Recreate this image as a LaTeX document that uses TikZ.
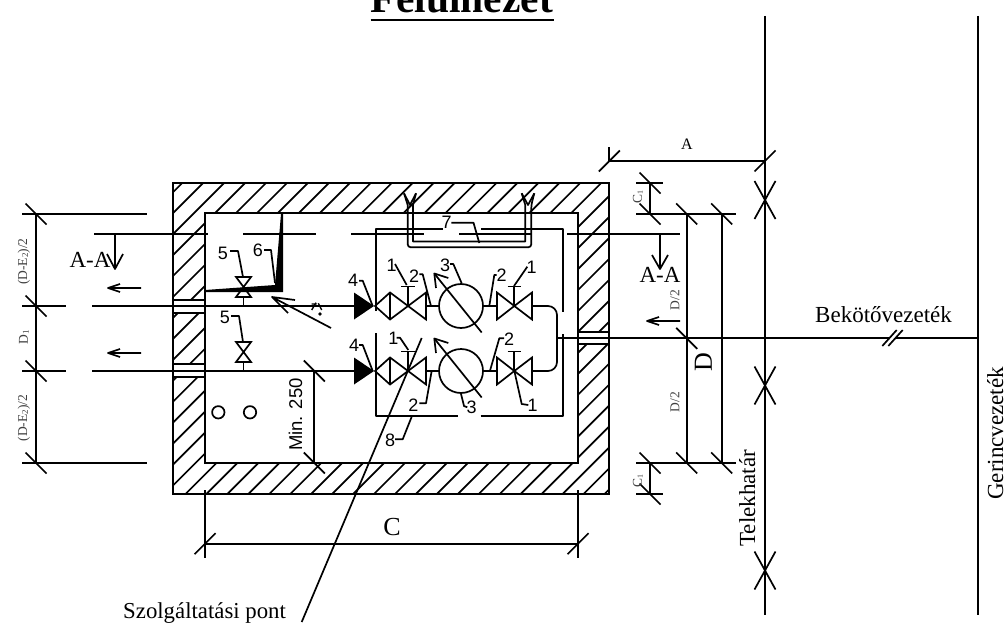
\documentclass[tikz,border=0pt]{standalone}
\usepackage{fontspec}
\setmainfont{Liberation Serif}
\setsansfont{Liberation Sans}
\newcommand{\fs}[1]{\fontsize{#1pt}{#1pt}\selectfont}
\newcommand{\dtick}[2]{\draw[dim] (#1-10.5,#2-10.5) -- (#1+10.5,#2+10.5);}
\newcommand{\ftick}[2]{\draw[dim] (#1-10.5,#2+10.5) -- (#1+10.5,#2-10.5);}
\newcommand{\xmark}[2]{\draw[dim] (#1-10.5,#2-19) -- (#1+10.5,#2+19) (#1-10.5,#2+19) -- (#1+10.5,#2-19);}
% ball valve chain at height #1
\newcommand{\valvesrow}[1]{%
 \fill (354,#1-13.5) -- (374,#1) -- (354,#1+13.5) -- cycle;
 \draw[ln,line join=miter] (375,#1) -- (390,#1-13.5) -- (408,#1) -- (390,#1+13.5) -- cycle (390,#1-13.5) -- (390,#1+13.5);
 \draw[ln,line join=miter] (408,#1) -- (426,#1-13.5) -- (426,#1+13.5) -- cycle;
 \draw[ln] (408,#1) -- (408,#1-19.5) (401,#1-19.5) -- (414.5,#1-19.5);
 \draw[ln] (426,#1) -- (439,#1);
 \draw[ln] (461,#1) circle (22);
 \draw[ln] (483,#1) -- (497,#1);
 \draw[ln,line join=miter] (514.3,#1) -- (497,#1-13.5) -- (497,#1+13.5) -- cycle;
 \draw[ln,line join=miter] (514.3,#1) -- (532,#1-13.5) -- (532,#1+13.5) -- cycle;
 \draw[ln] (514.3,#1) -- (514.3,#1-19.5) (507.5,#1-19.5) -- (521,#1-19.5);
 \draw[ln] (481.7,#1+26.5) -- (434.3,#1-32.5);
 \draw[ln] (436,#1-18) -- (434.3,#1-32.5) -- (448.3,#1-28);
}
\tikzset{
 ln/.style={line width=1.7pt,line cap=butt,line join=round},
 dim/.style={line width=1.7pt},
 thn/.style={line width=1.4pt},
 lab/.style={font=\sffamily\fs{18},inner sep=0pt},
 txt/.style={font=\fs{23},inner sep=0pt},
 small/.style={font=\fs{13.5},inner sep=0pt,text=black!75},
}
\begin{document}
\begin{tikzpicture}[x=1pt,y=-1pt]
\useasboundingbox (0,0) rectangle (1008,623);
\begin{scope}
\clip (0,0) rectangle (1008,623);
\node[anchor=base,inner sep=0pt,font=\bfseries\fs{41.5}] (title) at (462,12.5) {Felülnézet};
\end{scope}
\draw[line width=2.2pt] (370.5,20) -- (553.5,20);
% wall hatching
\begin{scope}
\clip (173,183) rectangle (609,494);
\foreach \k in {-26,...,12}{
 \pgfmathsetmacro{\hc}{868+20.95*\k}
 \draw[ln] (\hc-183,183) -- (\hc-494,494);
}
\end{scope}
\fill[white] (205,213) rectangle (578,463);
\fill[white] (173,300) rectangle (205,313);
\fill[white] (173,364) rectangle (205,377);
\fill[white] (578,332) rectangle (609,344);
\draw[ln,line join=miter] (173,183) rectangle (609,494);
\draw[ln,line join=miter] (205,213) rectangle (578,463);
\draw[ln] (173,300) -- (205,300) (173,313) -- (205,313);
\draw[ln] (173,364) -- (205,364) (173,377) -- (205,377);
\draw[ln] (578,332) -- (609,332) (578,344) -- (609,344);
% pipes
\draw[ln] (22,306) -- (66,306) (92,306) -- (354,306);
\draw[ln] (22,371) -- (66,371) (92,371) -- (354,371);
% left dimensions
\draw[dim] (36,214) -- (36,463);
\draw[dim] (22,214) -- (147,214) (22,463) -- (147,463);
\dtick{36}{214}\dtick{36}{306}\dtick{36}{371}\dtick{36}{463}
% section lines
\draw[thn] (94,234) -- (208,234) (243,234) -- (316,234) (351,234) -- (424,234) (459,234) -- (532,234) (567,234) -- (680,234);
\draw[ln] (115,234) -- (115,269) (107,254) -- (115,269) -- (123,254);
\draw[ln] (660,234) -- (660,269) (652,255) -- (660,269) -- (668,255);
\node[txt,anchor=base] (aaL) at (90,267) {A-A};
\node[txt,anchor=base] (aaR) at (660,282) {A-A};
% flow arrows
\draw[ln] (141,288) -- (108,288) (120,284) -- (108,288) -- (120,292);
\draw[ln] (141,353) -- (108,353) (120,349) -- (108,353) -- (120,357);
\draw[ln] (680,321) -- (647,321) (659,317) -- (647,321) -- (659,325);
% valves 5
\draw[ln,line join=miter] (236,277) -- (251,277) -- (236,297) -- (251,297) -- cycle;
\draw[ln] (243.5,297) -- (243.5,306);
\draw[ln,line join=miter] (236,342) -- (251,342) -- (236,362) -- (251,362) -- cycle;
\draw[ln] (243.5,362) -- (243.5,371);
\node[lab] (l5a) at (223,253) {5};
\draw[ln] (230,251) -- (238,251) -- (243,277);
\node[lab] (l5b) at (225,317) {5};
\draw[ln] (231,316) -- (239,316) -- (243,342);
% thick wedge 6
\fill (205,290) -- (275,285) -- (281,214) -- (283,214) -- (283,292) -- (205,292) -- cycle;
\node[lab] (l6) at (258,250) {6};
\draw[ln] (264,250) -- (271,250) -- (275,283);
% slanted arrow with symbol
\draw[ln] (331,328) -- (272,297) (288,313) -- (272,297) -- (295,300);
\draw[thn] (311.7,304) -- (316.7,304) (311.7,310) -- (316,302.7) (318.3,303.3) -- (321.7,310);
\fill (320,314) circle (1.8);
% valve rows
\valvesrow{306}
\valvesrow{371}
% collector
\draw[ln] (532,306) -- (548,306) arc[start angle=-90,end angle=0,radius=9] -- (557,362) arc[start angle=0,end angle=90,radius=9] -- (532,371);
\draw[ln] (557,338.3) -- (889,338.3) (895,338.3) -- (977.7,338.3);
\draw[ln] (882.3,346) -- (896.7,330) (888.3,346) -- (902.7,330);
% box 8
\draw[ln] (375.7,311) -- (375.7,229.3) -- (443,229.3) (481,229.3) -- (562.7,229.3) -- (562.7,311.7);
\draw[ln] (375.7,333.3) -- (375.7,416) -- (458.3,416) (480.7,416) -- (562.7,416) -- (562.7,334);
% drain U
\draw[ln] (404,193.3) -- (407.7,205) -- (407.7,244) [rounded corners=3pt] -- (407.7,247.3) -- (531.3,247.3) -- (531.3,205) -- (534.3,193.3);
\draw[ln] (416,193.3) -- (413,205) -- (413,241.5) -- (525.3,241.5) -- (525.3,205) -- (521.7,193.3);
\draw[ln] (404,193.3) -- (410,205) -- (416,193.3);
\draw[ln] (521.7,193.3) -- (528,205) -- (534.3,193.3);
\node[lab] (l7) at (446.5,222) {7};
\draw[ln] (451.3,222.7) -- (473.5,222.7) -- (479.3,243);
% labels upper
\node[lab] (l1a) at (391.5,265) {1};
\draw[ln] (395,264) -- (406.7,285);
\node[lab] (l2a) at (414,276) {2};
\draw[ln] (419.3,274.3) -- (422.7,274.3) -- (430.7,305);
\node[lab] (l3a) at (445,265) {3};
\draw[ln] (450,264) -- (453.3,264) -- (461.7,283.3);
\node[lab] (l4a) at (353,280.7) {4};
\draw[ln] (359,280.7) -- (362.7,280.7) -- (372.7,306);
\node[lab] (l2b) at (501.7,275) {2};
\draw[ln] (496.7,275) -- (494.3,275) -- (489.3,306);
\node[lab] (l1b) at (531.7,267.3) {1};
\draw[ln] (527.3,266.7) -- (514,286);
% labels lower
\node[lab] (l4b) at (354,345) {4};
\draw[ln] (359,345) -- (362.7,345) -- (372.7,371);
\node[lab] (l1c) at (393.3,338) {1};
\draw[ln] (396.7,337.7) -- (400,337.7) -- (408.3,350);
\node[lab] (l2c) at (509,339.3) {2};
\draw[ln] (504,338.3) -- (499.3,338.3) -- (490,370.7);
\node[lab] (l2d) at (413.3,405) {2};
\draw[ln] (419.3,403.3) -- (426,403.3) -- (431.7,370.7);
\node[lab] (l3b) at (471.7,407.3) {3};
\draw[ln] (467.3,407.3) -- (464,406) -- (460.7,392.7);
\node[lab] (l1d) at (532.7,405) {1};
\draw[ln] (528.3,405) -- (521.7,404) -- (514.3,370.7);
\node[lab] (l8) at (390,440) {8};
\draw[ln] (395,439.3) -- (402.7,439.3) -- (411.7,416.7);
% circles
\draw[ln] (218.3,412.3) circle (6.2) (250,412.3) circle (6.2);
% Min 250
\draw[dim] (314.3,371) -- (314.3,463) (270,371) -- (328,371);
\dtick{314.3}{371}\dtick{314.3}{463}
\node[font=\sffamily\fs{18.5},inner sep=0pt,rotate=90,anchor=base west] (min) at (302,451) {Min. 250};
% C dimension
\draw[dim] (205,543.7) -- (578,543.7);
\draw[dim] (205,490) -- (205,558) (578,490) -- (578,558);
\ftick{205}{543.7}\ftick{578}{543.7}
\node[font=\fs{26},inner sep=0pt] (C) at (392,527) {C};
% service point leader
\draw[ln] (421.7,338) -- (301.7,622);
\node[font=\fs{22.8},inner sep=0pt,anchor=base west] (szp) at (123,618) {Szolgáltatási pont};
% boundary lines
\draw[ln] (765,16) -- (765,615);
\draw[ln] (977.7,16) -- (977.7,615);
\xmark{765}{200}\xmark{765}{385.5}\xmark{765}{570.5}
\node[txt,rotate=90,anchor=base west] (telek) at (755,546.7) {Telekhatár};
\node[txt,rotate=90,anchor=base west] (gerinc) at (1003,500) {Gerincvezeték};
\node[txt,anchor=base west] (bek) at (815,322.7) {Bekötővezeték};
% A dimension
\draw[dim] (609.3,161) -- (765,161) (609.3,147.3) -- (609.3,161);
\ftick{609.3}{161}\ftick{765}{161}
\node[font=\fs{16},inner sep=0pt] (A) at (687,144) {A};
% right dimensions
\draw[dim] (650,183) -- (650,214) (650,463) -- (650,494);
\draw[dim] (636,183) -- (663.3,183) (636,214) -- (735.7,214);
\draw[dim] (636,463) -- (735.7,463) (636,494) -- (663.3,494);
\dtick{650}{183}\dtick{650}{214}\dtick{650}{463}\dtick{650}{494}
\draw[dim] (686.7,214) -- (686.7,463) (721.7,214) -- (721.7,463);
\dtick{686.7}{214}\dtick{686.7}{338.3}\dtick{686.7}{463}
\dtick{721.7}{214}\dtick{721.7}{463}
\node[small,rotate=90] (c1a) at (638,197) {C\raisebox{-1pt}{\fs{8}1}};
\node[small,rotate=90] (c1b) at (638,481) {C\raisebox{-1pt}{\fs{8}1}};
\node[small,rotate=90] (d2a) at (675,300) {D/2};
\node[small,rotate=90] (d2b) at (675,402) {D/2};
\node[font=\fs{26},inner sep=0pt,rotate=90] (D) at (703.5,361.7) {D};
\node[small,rotate=90] (de1) at (24,261.7) {(D-E\raisebox{-1pt}{\fs{9}2})/2};
\node[small,rotate=90] (de2) at (24,418) {(D-E\raisebox{-1pt}{\fs{9}2})/2};
\node[small,rotate=90] (d1) at (24,337) {D\raisebox{-1pt}{\fs{9}1}};
\end{tikzpicture}
\end{document}
